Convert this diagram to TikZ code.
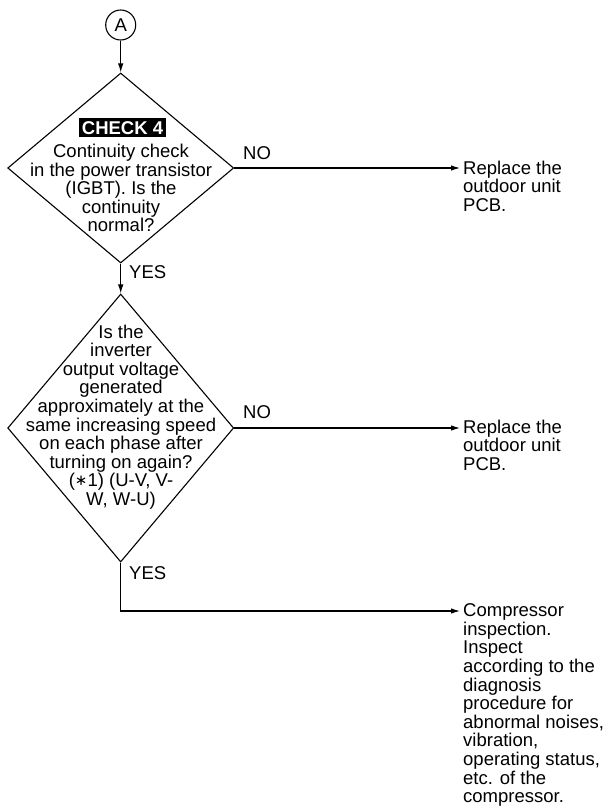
\documentclass[tikz,border=0pt]{standalone}
\usepackage{fontspec}
\setmainfont{Liberation Sans}
\newfontfamily\symfont{DejaVu Sans}
\usetikzlibrary{shapes.geometric,arrows.meta}
\begin{document}
\begin{tikzpicture}[x=1pt,y=-1pt,
  txt/.style={font=\fontsize{18.5}{18.6}\selectfont, inner sep=0pt},
  flowline/.style={line width=1.1pt},
  arr/.style={flowline, -{Latex[length=9pt,width=5.5pt]}},
  decision/.style={diamond, draw, line width=1.1pt, inner sep=0pt},
  connector/.style={circle, draw, line width=1.1pt, minimum size=30pt, inner sep=0pt,
    font=\fontsize{18.5}{18.6}\selectfont},
  tag/.style={fill=black, text=white, inner xsep=3pt, inner ysep=3pt,
    font=\fontsize{18.5}{18.6}\selectfont\bfseries, text height=13.3pt, text depth=0pt}]
\useasboundingbox (0,0) rectangle (611,808);

% connector and decisions
\node[connector] (A) at (120.7,25) {A};
\node[decision, minimum width=226pt, minimum height=190pt] (d1) at (120.7,168) {};
\node[decision, minimum width=226pt, minimum height=268pt] (d2) at (120.7,428) {};

% text inside the decisions
\node[tag] (c4) at (122.5,127.5) {CHECK 4};
\node[txt, align=center] (q1) at (121,188) {Continuity check\\in the power transistor\\(IGBT). Is the\\continuity\\normal?};
\node[txt, align=center] (q2) at (121,417) {Is the\\inverter\\output voltage\\generated\\approximately at the\\same increasing speed\\on each phase after\\turning on again?\\({\symfont\fontsize{15}{15}\selectfont\raisebox{1pt}{∗}}1) (U-V, V-\\W, W-U)};

% results
\node[txt, align=left, anchor=north west] (r1) at (463,160.5) {Replace the\\outdoor unit\\PCB.};
\node[txt, align=left, anchor=north west] (r2) at (463,419.5) {Replace the\\outdoor unit\\PCB.};
\node[txt, align=left, anchor=north west] (r3) at (463,603.5) {Compressor\\inspection.\\Inspect\\according to the\\diagnosis\\procedure for\\abnormal noises,\\vibration,\\operating status,\\etc. of the\\compressor.};

% branch labels
\node[txt, anchor=west] (no1) at (243,152.7) {NO};
\node[txt, anchor=west] (no2) at (243,411.7) {NO};
\node[txt, anchor=west] (yes1) at (129,272) {YES};
\node[txt, anchor=west] (yes2) at (129,573) {YES};

% connectors
\coordinate (t1) at ([xshift=-3pt]r1.west |- d1.east);
\coordinate (t2) at ([xshift=-3pt]r2.west |- d2.east);
\coordinate (t3) at ([xshift=-3pt]r3.west |- 0,611);
\draw[arr] (A) -- (d1.north);
\draw[arr] (d1.south) -- (d2.north);
\draw[arr] (d1.east) -- (t1);
\draw[arr] (d2.east) -- (t2);
\draw[arr] (d2.south) |- (t3);
\end{tikzpicture}
\end{document}
